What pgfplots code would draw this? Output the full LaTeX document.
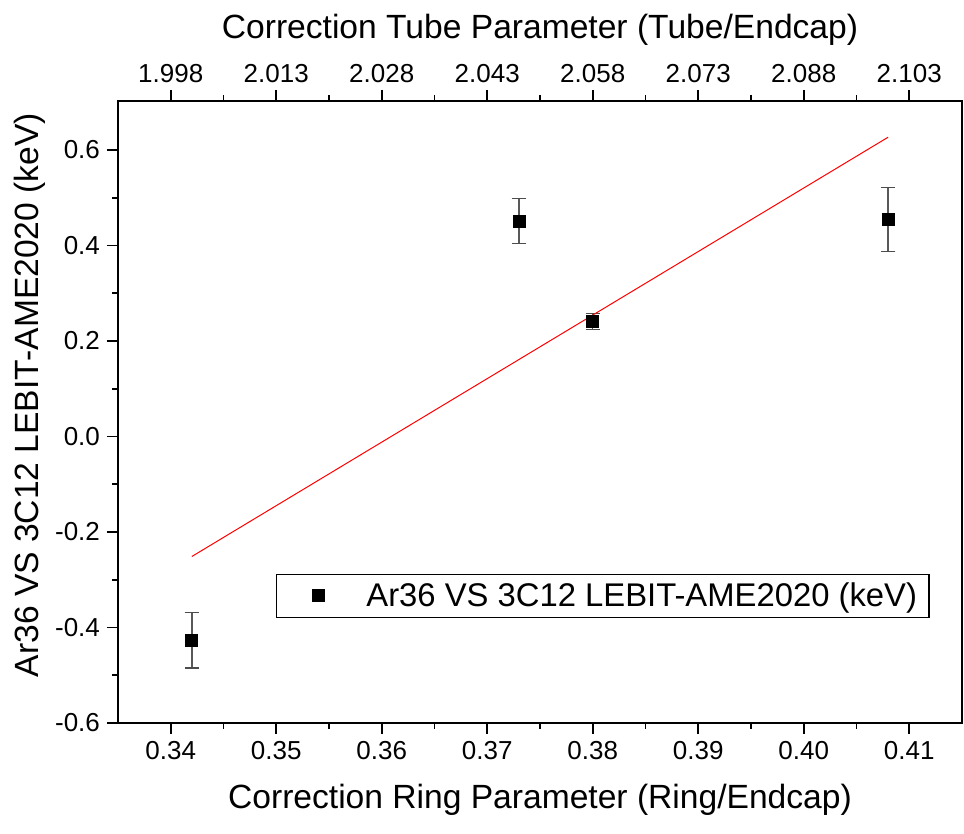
\documentclass[border=0pt]{standalone}
\usepackage{pgfplots}
\pgfplotsset{compat=1.18}
\usepackage{fontspec}
\setmainfont{Liberation Sans}
\begin{document}
\begin{tikzpicture}
\pgfplotsset{
  common/.style={
    scale only axis, width=422pt, height=311pt,
    xmin=0.335, xmax=0.415, ymin=-0.6, ymax=0.7026,
    xtick={0.34,0.35,0.36,0.37,0.38,0.39,0.40,0.41},
    minor x tick num=1,
    tick align=outside,
    major tick length=5.5pt, minor tick length=3pt,
    every tick/.append style={black, line width=0.9pt},
    axis line style={line width=1pt},
    /pgf/number format/assume math mode=true,
    tick label style={font=\fontsize{13}{15}\selectfont},
    label style={font=\fontsize{16.8}{20}\selectfont},
  }
}
\begin{axis}[common, name=ax,
  xtick pos=bottom, ytick pos=left,
  ytick={-0.6,-0.4,-0.2,0,0.2,0.4,0.6},
  minor y tick num=1,
  xticklabel style={/pgf/number format/.cd, fixed, fixed zerofill, precision=2},
  yticklabel style={/pgf/number format/.cd, fixed, fixed zerofill, precision=1},
  xlabel={Correction Ring Parameter (Ring/Endcap)},
  ylabel={Ar36 VS 3C12 LEBIT-AME2020 (keV)},
  xlabel style={at={([yshift=-38.5pt]axis description cs:0.5,0)}, anchor=center},
  ylabel style={at={([xshift=-44pt]axis description cs:0,0.527)}, anchor=center, rotate=0},
  legend style={at={(0.187,0.169)}, anchor=south west, draw=black, line width=0.6pt,
    font=\fontsize{16.4}{19}\selectfont, inner xsep=4pt, inner ysep=2pt},
  legend cell align=left,
  legend image code/.code={%
    \path[draw=none, fill=none] (0pt,-3pt) rectangle (39pt,3pt);
    \draw[mark repeat=2,mark phase=2] plot coordinates {(0pt,0pt) (17pt,0pt) (34pt,0pt)};},
]
\addplot[only marks, mark=square*, mark size=3pt, black,
  error bars/.cd, y dir=both, y explicit,
  error bar style={gray!70!black, line width=0.7pt},
  error mark options={rotate=90, mark size=3.6pt, line width=0.7pt, gray!60!black}]
  coordinates {
    (0.342,-0.427) +- (0,0.058)
    (0.373,0.451) +- (0,0.047)
    (0.380,0.241) +- (0,0.017)
    (0.408,0.455) +- (0,0.067)
  };
\addlegendentry{Ar36 VS 3C12 LEBIT-AME2020 (keV)}
\addplot[red, line width=0.5pt, forget plot] coordinates {(0.342,-0.2513) (0.408,0.6268)};
\end{axis}
\begin{axis}[common,
  axis x line*=top, axis y line=none,
  xticklabels={1.998,2.013,2.028,2.043,2.058,2.073,2.088,2.103},
  xlabel={Correction Tube Parameter (Tube/Endcap)},
  xlabel style={at={([yshift=35.5pt]axis description cs:0.5,1)}, anchor=center},
]
\end{axis}
\pgfresetboundingbox
\path[use as bounding box] ([xshift=-59pt,yshift=-55.5pt]ax.south west) rectangle ([xshift=1pt,yshift=50.5pt]ax.north east);
\end{tikzpicture}
\end{document}
